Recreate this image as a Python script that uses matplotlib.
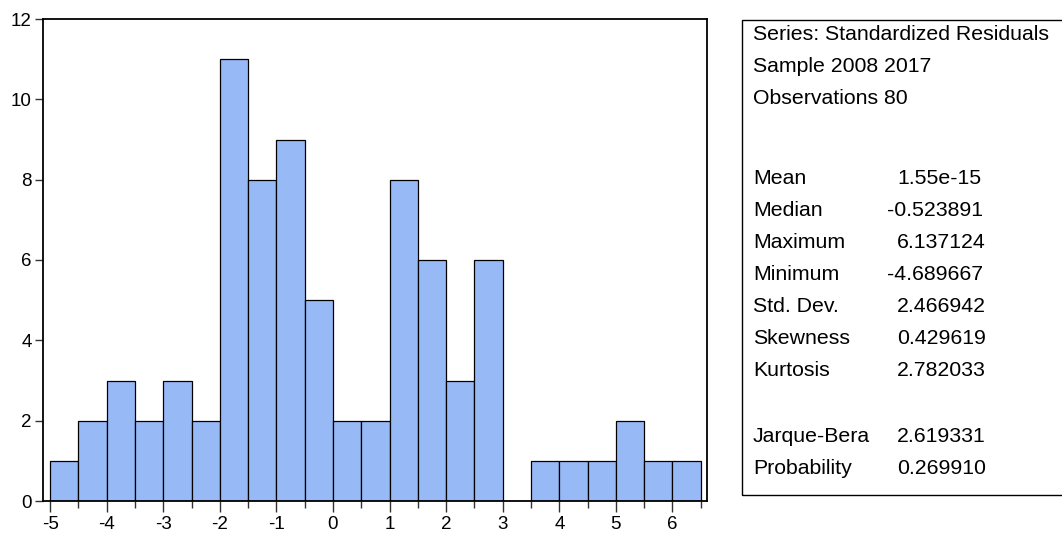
import matplotlib
matplotlib.use("Agg")
import matplotlib.pyplot as plt
from matplotlib.patches import Rectangle

plt.rcParams['font.family'] = ['Liberation Sans', 'DejaVu Sans']

# Histogram of standardized residuals (bin width 0.5, starting at -5)
bin_start = -5.0
bin_width = 0.5
counts = [1, 2, 3, 2, 3, 2, 11, 8, 9, 5, 2, 2, 8, 6, 3, 6, 0, 1, 1, 1, 2, 1, 1]
x_ticks = [-5, -4, -3, -2, -1, 0, 1, 2, 3, 4, 5, 6]
y_ticks = [0, 2, 4, 6, 8, 10, 12]

stat_labels = ["Mean", "Median", "Maximum", "Minimum", "Std. Dev.",
               "Skewness", "Kurtosis", "Jarque-Bera", "Probability"]
stat_values = ["1.55e-15", "-0.523891", "6.137124", "-4.689667", "2.466942",
               "0.429619", "2.782033", "2.619331", "0.269910"]
header_lines = ["Series: Standardized Residuals", "Sample 2008 2017",
                "Observations 80"]

W, H = 1062, 536
fig = plt.figure(figsize=(W / 100, H / 100), dpi=100)
fig.patch.set_facecolor('white')


def fx(px):
    return px / W


def fy(py):
    return 1 - py / H


ax = fig.add_axes([fx(43), fy(501), fx(707) - fx(43), fy(19) - fy(501)])
edges = [bin_start + i * bin_width for i in range(len(counts))]
ax.bar(edges, counts, width=bin_width, align='edge', color='#97BAF7',
       edgecolor='black', linewidth=0.9)

ax.set_xlim(-5.125, 6.61)
ax.set_ylim(0, 12)
ax.set_xticks(x_ticks)
ax.set_xticklabels([str(t) for t in x_ticks])
ax.set_xticks([t + 0.5 for t in x_ticks], minor=True)
ax.set_yticks(y_ticks)
ax.set_yticklabels([str(t) for t in y_ticks])
ax.tick_params(axis='x', which='major', length=8, width=1, color='#333333',
               labelsize=13.5, pad=3)
ax.tick_params(axis='x', which='minor', length=5, width=1, color='#333333')
ax.tick_params(axis='y', which='major', length=6, width=1, color='#333333',
               labelsize=13.5, pad=2)
for s in ax.spines.values():
    s.set_linewidth(1.3)
    s.set_color('black')

# Summary statistics panel
box = Rectangle((fx(742), fy(495)), fx(1070) - fx(742), fy(20) - fy(495),
                transform=fig.transFigure, fill=False, edgecolor='black',
                linewidth=1.0, clip_on=False)
fig.patches.append(box)

fs = 15.3
for text, py in zip(header_lines, [34, 66, 98]):
    fig.text(fx(753), fy(py), text, fontsize=fs, va='center', ha='left')

stat_y = [178, 210, 242, 274, 306, 338, 371, 437, 469]
for lab, val, py in zip(stat_labels, stat_values, stat_y):
    fig.text(fx(753), fy(py), lab, fontsize=fs, va='center', ha='left')
    vx = 887 if val.startswith('-') else 897
    fig.text(fx(vx), fy(py), val, fontsize=fs, va='center', ha='left')

fig.savefig('out.png', dpi=100)
